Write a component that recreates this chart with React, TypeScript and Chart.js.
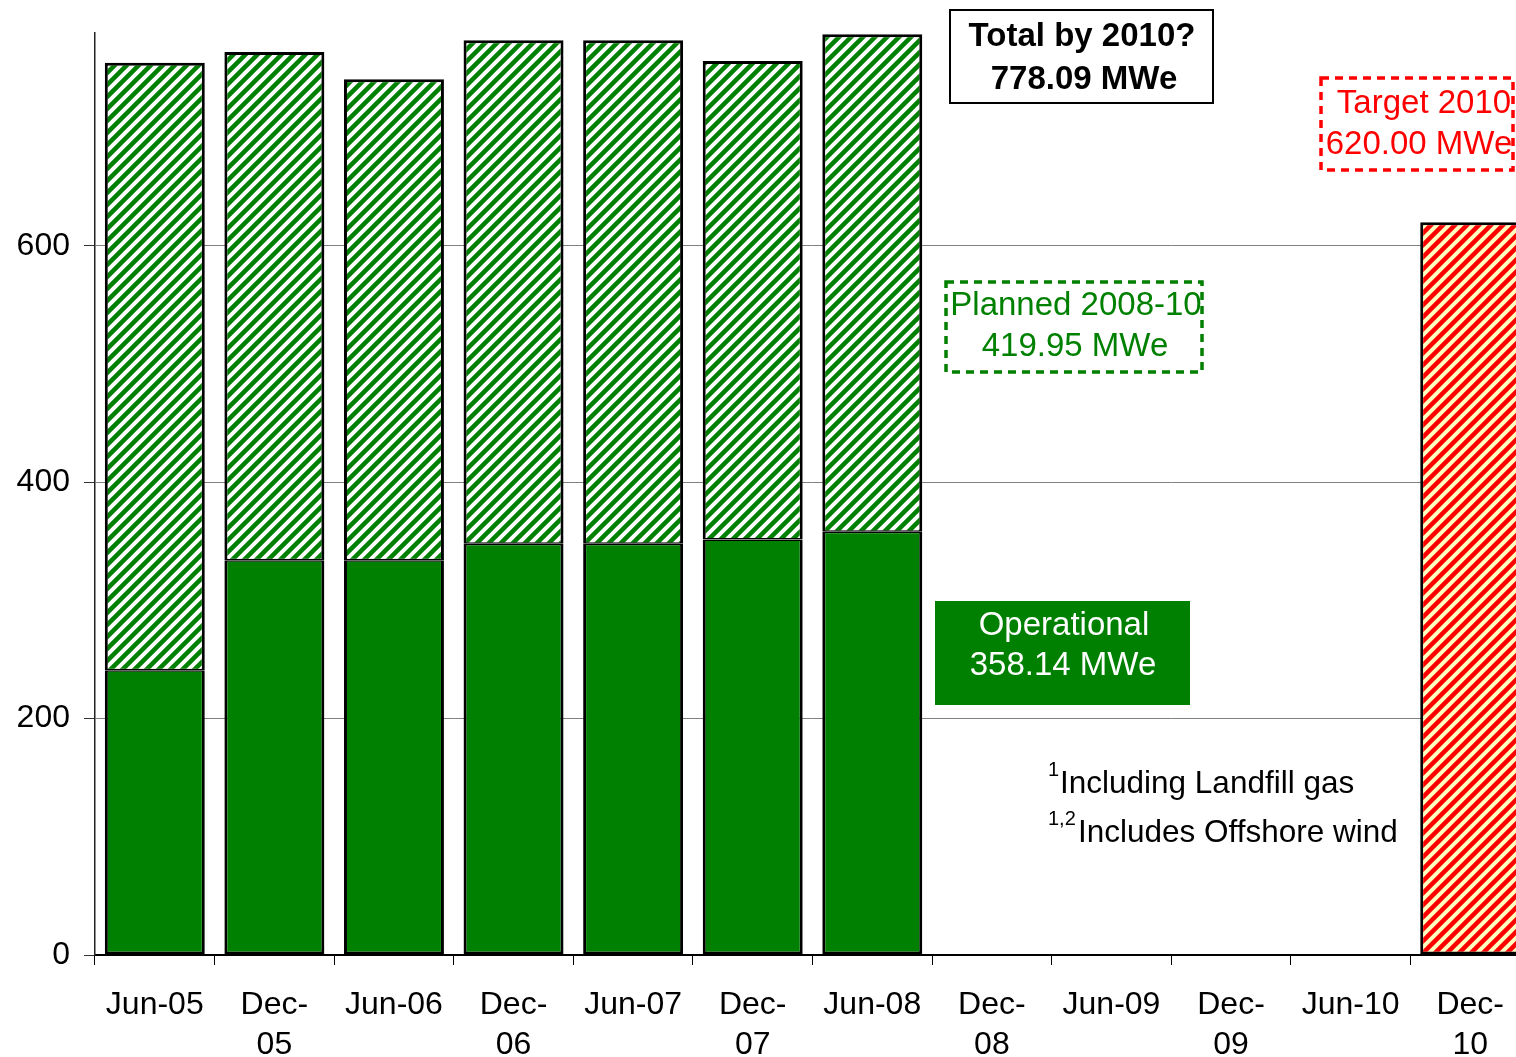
import React, { useEffect, useRef } from "react";
import { Chart, registerables } from "chart.js";

Chart.register(...registerables);

const categories: string[][] = [
  ["Jun-05"], ["Dec-", "05"], ["Jun-06"], ["Dec-", "06"], ["Jun-07"], ["Dec-", "07"],
  ["Jun-08"], ["Dec-", "08"], ["Jun-09"], ["Dec-", "09"], ["Jun-10"], ["Dec-", "10"],
];
const operational: (number | null)[] = [241, 334, 334, 348, 348, 351.5, 358.14, null, null, null, null, null];
const planned: (number | null)[] = [514, 430, 407, 426, 426, 405, 421, null, null, null, null, null];
const target: (number | null)[] = [null, null, null, null, null, null, null, null, null, null, null, 620];
const yTicks: number[] = [0, 200, 400, 600];

const FONT = "'Liberation Sans', Arial, sans-serif";

function makeHatch(bg: string, fg: string, size = 12, lw = 4.5): CanvasPattern | string {
  const c = document.createElement("canvas");
  c.width = size;
  c.height = size;
  const x = c.getContext("2d");
  if (!x) return fg;
  x.fillStyle = bg;
  x.fillRect(0, 0, size, size);
  x.strokeStyle = fg;
  x.lineWidth = lw;
  x.beginPath();
  x.moveTo(-size / 2, size / 2);
  x.lineTo(size / 2, -size / 2);
  x.moveTo(-1, size + 1);
  x.lineTo(size + 1, -1);
  x.moveTo(size / 2, size * 1.5);
  x.lineTo(size * 1.5, size / 2);
  x.stroke();
  const p = x.createPattern(c, "repeat");
  return p || fg;
}

function dashedRect(ctx: CanvasRenderingContext2D, x: number, y: number, w: number, h: number, color: string) {
  ctx.save();
  ctx.strokeStyle = color;
  ctx.lineWidth = 3.5;
  ctx.setLineDash([8, 6]);
  ctx.strokeRect(x, y, w, h);
  ctx.restore();
}

function centerText(ctx: CanvasRenderingContext2D, text: string, cx: number, cy: number, font: string, color: string) {
  ctx.save();
  ctx.font = font;
  ctx.fillStyle = color;
  ctx.textAlign = "center";
  ctx.textBaseline = "middle";
  ctx.fillText(text, cx, cy);
  ctx.restore();
}

const annotations = {
  id: "annotations",
  afterDraw(chart: any) {
    const ctx: CanvasRenderingContext2D = chart.ctx;
    // Total box
    ctx.save();
    ctx.fillStyle = "#fff";
    ctx.fillRect(950, 10, 263, 93);
    ctx.strokeStyle = "#000";
    ctx.lineWidth = 2;
    ctx.strokeRect(950, 10, 263, 93);
    ctx.restore();
    centerText(ctx, "Total by 2010?", 1082, 37, `bold 33px ${FONT}`, "#000");
    centerText(ctx, "778.09 MWe", 1084, 80, `bold 33px ${FONT}`, "#000");

    // Target box
    dashedRect(ctx, 1321, 78, 192, 92, "#ff0000");
    centerText(ctx, "Target 2010", 1424, 104, `33px ${FONT}`, "#ff0000");
    centerText(ctx, "620.00 MWe", 1419, 145, `33px ${FONT}`, "#ff0000");

    // Planned box
    dashedRect(ctx, 946, 282, 256, 90, "#008000");
    centerText(ctx, "Planned 2008-10", 1076, 306, `33px ${FONT}`, "#008000");
    centerText(ctx, "419.95 MWe", 1075, 347, `33px ${FONT}`, "#008000");

    // Operational box
    ctx.save();
    ctx.fillStyle = "#008000";
    ctx.fillRect(935, 601, 255, 104);
    ctx.restore();
    centerText(ctx, "Operational", 1064, 626, `33px ${FONT}`, "#fff");
    centerText(ctx, "358.14 MWe", 1063, 666, `33px ${FONT}`, "#fff");

    // Footnotes
    ctx.save();
    ctx.fillStyle = "#000";
    ctx.textAlign = "left";
    ctx.textBaseline = "alphabetic";
    ctx.font = `20px ${FONT}`;
    ctx.fillText("1", 1048, 776);
    ctx.fillText("1,2", 1048, 825);
    ctx.font = `31.5px ${FONT}`;
    ctx.fillText("Including Landfill gas", 1060, 793);
    ctx.fillText("Includes Offshore wind", 1078, 842);
    ctx.restore();
  },
};

export default function App() {
  const ref = useRef<HTMLCanvasElement>(null);

  useEffect(() => {
    const canvas = ref.current;
    if (!canvas) return;
    const greenHatch = makeHatch("#ffffff", "#008000");
    const redHatch = makeHatch("#ffffc0", "#ff0000");
    const common = {
      borderColor: "#000",
      borderSkipped: false as const,
      barPercentage: 0.836,
      categoryPercentage: 1,
    };
    const chart = new Chart(canvas, {
      type: "bar",
      data: {
        labels: categories,
        datasets: [
          {
            label: "Operational",
            data: operational,
            backgroundColor: "#008000",
            borderWidth: { left: 3, right: 3, bottom: 3, top: 1.5 },
            ...common,
          },
          {
            label: "Planned 2008-10",
            data: planned,
            backgroundColor: greenHatch as any,
            borderWidth: { left: 3, right: 3, bottom: 1.5, top: 3 },
            ...common,
          },
          {
            label: "Target 2010",
            data: target,
            backgroundColor: redHatch as any,
            borderWidth: 3,
            ...common,
          },
        ],
      },
      options: {
        responsive: false,
        animation: false,
        devicePixelRatio: 1,
        layout: { padding: { top: 33, left: 0, right: 0, bottom: 0 } },
        plugins: {
          legend: { display: false },
          tooltip: { enabled: false },
        },
        scales: {
          x: {
            stacked: true,
            offset: true,
            grid: {
              offset: true,
              drawOnChartArea: false,
              drawTicks: true,
              tickLength: 10,
              color: "#000",
              lineWidth: 1,
            },
            border: { color: "#000", width: 2 },
            ticks: {
              autoSkip: false,
              maxRotation: 0,
              minRotation: 0,
              color: "#000",
              padding: 20,
              font: { family: FONT, size: 32, lineHeight: 1.25 },
            },
            afterFit(scale: any) {
              scale.height = 102;
            },
          },
          y: {
            stacked: true,
            min: 0,
            max: 780,
            grid: {
              color: "#808080",
              lineWidth: 1,
              tickLength: 11,
              tickColor: "#333",
            },
            border: { color: "#222", width: 1.5 },
            ticks: {
              stepSize: 200,
              color: "#000",
              padding: 14,
              font: { family: FONT, size: 32 },
            },
            afterBuildTicks(scale: any) {
              scale.ticks = yTicks.map((v) => ({ value: v }));
            },
            afterFit(scale: any) {
              scale.width = 95;
            },
          },
        },
      },
      plugins: [annotations],
    });
    return () => chart.destroy();
  }, []);

  return (
    <div style={{ position: "absolute", left: 0, top: 0, width: 1516, height: 1057, overflow: "hidden" }}>
      <canvas ref={ref} width={1530} height={1057} style={{ display: "block" }} />
    </div>
  );
}
